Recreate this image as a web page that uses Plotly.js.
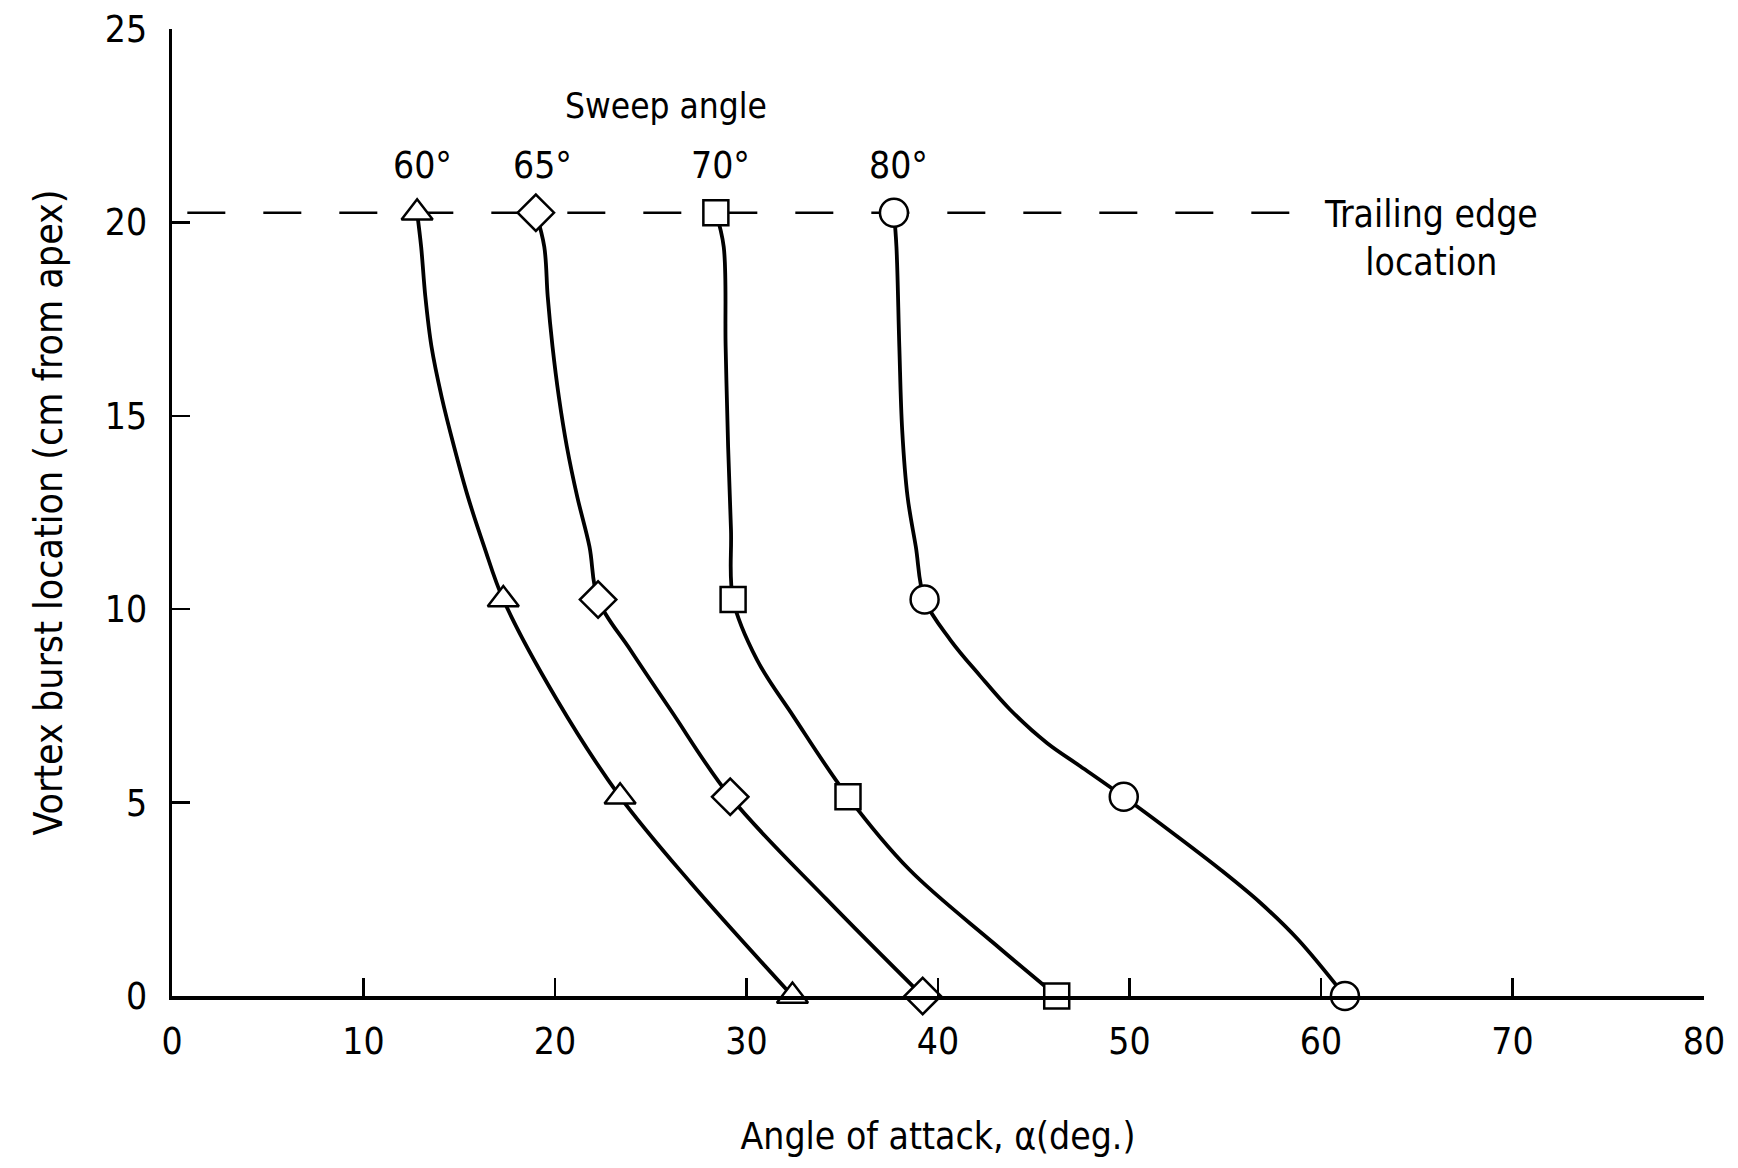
<!DOCTYPE html>
<html>
<head>
<meta charset="utf-8">
<script src="https://cdn.plot.ly/plotly-3.0.1.min.js"></script>
<style>html,body{margin:0;padding:0;background:#fff;}#chart{width:1738px;height:1168px;}</style>
</head>
<body>
<div id="chart"></div>
<script>
// Sweep angles (labels)
const sweepLabels = ["60°", "65°", "70°", "80°"];
const markerSymbols = ["triangle-up", "diamond", "square", "circle"];

// Measured points: burst location (cm from apex) vs angle of attack (deg)
const burstY = [20.25, 10.25, 5.15, 0];
const alpha60 = [12.8, 17.3, 23.4, 32.4];
const alpha65 = [19.0, 22.25, 29.15, 39.2];
const alpha70 = [28.4, 29.3, 35.3, 46.2];
const alpha80 = [37.7, 39.3, 49.7, 61.25];

// Faired curves
const curve60x = [12.8, 13.01, 13.23, 13.55, 14.08, 14.73, 15.45, 16.3, 17.3, 20.1, 23.4, 27.1, 32.4];
const curve60y = [20.25, 19.37, 18.08, 16.79, 15.49, 14.2, 12.91, 11.62, 10.25, 7.66, 5.15, 2.92, 0];
const curve65x = [19.0, 19.44, 19.62, 19.87, 20.2, 20.62, 21.16, 21.8, 22.25, 23.93, 26.03, 29.15, 34.2, 39.2];
const curve65y = [20.25, 19.37, 18.08, 16.79, 15.49, 14.2, 12.91, 11.62, 10.25, 8.95, 7.4, 5.15, 2.49, 0];
const curve70x = [28.4, 28.81, 28.91, 29.04, 29.19, 29.3, 30.55, 32.45, 35.3, 38.5, 42.9, 46.2];
const curve70y = [20.25, 19.37, 16.79, 14.2, 12.05, 10.25, 8.69, 7.23, 5.15, 3.27, 1.37, 0];
const curve80x = [37.7, 37.83, 37.98, 38.13, 38.41, 38.84, 39.3, 40.64, 42.21, 43.77, 45.69, 47.43, 49.7, 52.48, 54.74, 56.83, 58.8, 61.25];
const curve80y = [20.25, 19.37, 16.79, 14.63, 12.91, 11.62, 10.25, 9.21, 8.27, 7.4, 6.54, 5.94, 5.15, 4.13, 3.27, 2.41, 1.46, 0];

// Trailing edge reference line
const trailingEdgeY = [20.25, 20.25];
const trailingEdgeX = [0.8, 58.4];

// Axis ticks
const xTicks = [0, 10, 20, 30, 40, 50, 60, 70, 80];
const yTicks = [0, 5, 10, 15, 20, 25];

const FONT = "'DejaVu Sans Condensed', 'Liberation Sans Narrow', sans-serif";

const curvesX = [curve60x, curve65x, curve70x, curve80x];
const curvesY = [curve60y, curve65y, curve70y, curve80y];
const pointsX = [alpha60, alpha65, alpha70, alpha80];

const traces = [];
traces.push({
  x: trailingEdgeX, y: trailingEdgeY, mode: "lines", showlegend: false, hoverinfo: "skip",
  line: {color: "#000", width: 2.5, dash: "38px,38px"}
});
for (let i = 0; i < 4; i++) {
  traces.push({
    x: curvesX[i], y: curvesY[i], mode: "lines", showlegend: false, hoverinfo: "skip",
    line: {color: "#000", width: 3.8, shape: "spline", smoothing: 1}
  });
}
const sizes = [27, 28, 25, 28];
for (let i = 0; i < 4; i++) {
  traces.push({
    x: pointsX[i], y: burstY, mode: "markers", name: sweepLabels[i], showlegend: false,
    cliponaxis: false,
    marker: {symbol: markerSymbols[i], size: sizes[i], color: "#fff",
             line: {color: "#000", width: 2.5}}
  });
}

const annFont = {family: FONT, size: 37, color: "#000"};
const annotations = [
  {text: "Sweep angle", x: 25.8, y: 23.0, xref: "x", yref: "y", showarrow: false, font: {family: FONT, size: 35, color: "#000"}},
  {text: sweepLabels[0], x: 13.06, y: 21.46, xref: "x", yref: "y", showarrow: false, font: annFont},
  {text: sweepLabels[1], x: 19.33, y: 21.46, xref: "x", yref: "y", showarrow: false, font: annFont},
  {text: sweepLabels[2], x: 28.63, y: 21.46, xref: "x", yref: "y", showarrow: false, font: annFont},
  {text: sweepLabels[3], x: 37.93, y: 21.46, xref: "x", yref: "y", showarrow: false, font: annFont},
  {text: "Trailing edge<br>location", x: 65.76, y: 19.59, xref: "x", yref: "y", showarrow: false, font: annFont}
];

const layout = {
  width: 1738, height: 1168,
  paper_bgcolor: "#fff", plot_bgcolor: "#fff",
  margin: {l: 172, r: 34, t: 29, b: 172, pad: 0},
  showlegend: false,
  font: {family: FONT, color: "#000"},
  xaxis: {
    range: [0, 80], tickvals: xTicks, ticktext: xTicks.map(String),
    showline: true, linecolor: "#000", linewidth: 3.5, mirror: false,
    ticks: "inside", ticklen: 18, tickwidth: 2.5, tickcolor: "#000",
    showgrid: false, zeroline: false, ticklabelstandoff: 10,
    tickfont: {family: FONT, size: 37, color: "#000"},
    title: {text: "Angle of attack, α(deg.)", font: {family: FONT, size: 37, color: "#000"}, standoff: 62}
  },
  yaxis: {
    range: [0, 25], tickvals: yTicks, ticktext: yTicks.map(String),
    showline: true, linecolor: "#000", linewidth: 3.5, mirror: false,
    ticks: "inside", ticklen: 18, tickwidth: 2.5, tickcolor: "#000",
    showgrid: false, zeroline: false, ticklabelstandoff: 14,
    tickfont: {family: FONT, size: 37, color: "#000"},
    title: {text: "Vortex burst location (cm from apex)", font: {family: FONT, size: 39, color: "#000"}, standoff: 31}
  },
  annotations: annotations
};

Plotly.newPlot("chart", traces, layout, {staticPlot: true, displayModeBar: false});
</script>
</body>
</html>
